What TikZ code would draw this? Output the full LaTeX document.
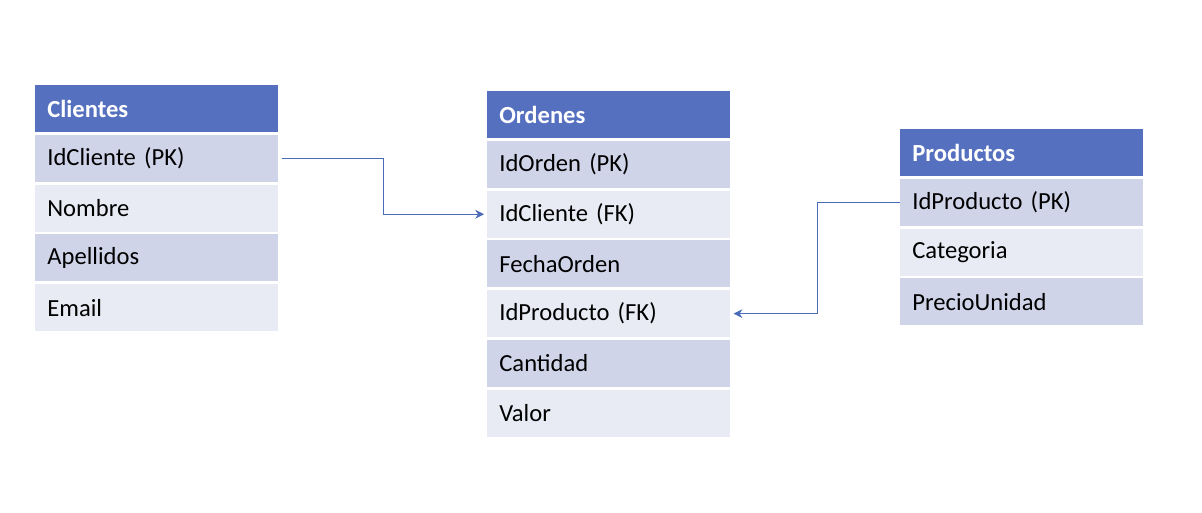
\documentclass[tikz,border=0pt]{standalone}
\usepackage{fontspec}
\setmainfont{Carlito}
\usetikzlibrary{arrows.meta}
\usetikzlibrary{positioning}
\definecolor{headblue}{HTML}{5670C0}
\definecolor{rowdark}{HTML}{CFD4E9}
\definecolor{rowlight}{HTML}{E8EAF4}
\definecolor{linkblue}{HTML}{4A6CB8}
\tikzset{
  cell/.style={minimum width=4.86cm,minimum height=0.94cm,inner xsep=0.24cm,
    text width=4.38cm,align=left,font=\fontsize{14}{16}\selectfont,anchor=north west},
  head/.style={cell,fill=headblue,text=white,font=\fontsize{14}{16}\selectfont\bfseries},
  dark/.style={cell,fill=rowdark},
  light/.style={cell,fill=rowlight},
  link/.style={linkblue,-{Stealth[length=5pt,width=5pt]}}
}
\begin{document}
\begin{tikzpicture}[x=0.02cm,y=-0.02cm]
            \useasboundingbox (0,0) rectangle (1202,512);

            % Clientes
            \node[head] (cli) at (35,85) {Clientes};
            \node[dark,below=0.04cm of cli.south west,anchor=north west] (cli1) {IdCliente (PK)};
            \node[light,below=0.04cm of cli1.south west,anchor=north west] (cli2) {Nombre};
            \node[dark,below=0.04cm of cli2.south west,anchor=north west] (cli3) {Apellidos};
            \node[light,below=0.04cm of cli3.south west,anchor=north west] (cli4) {Email};

            % Ordenes
            \node[head] (ord) at (487,91) {Ordenes};
            \node[dark,below=0.04cm of ord.south west,anchor=north west] (ord1) {IdOrden (PK)};
            \node[light,below=0.04cm of ord1.south west,anchor=north west] (ord2) {IdCliente (FK)};
            \node[dark,below=0.04cm of ord2.south west,anchor=north west] (ord3) {FechaOrden};
            \node[light,below=0.04cm of ord3.south west,anchor=north west] (ord4) {IdProducto (FK)};
            \node[dark,below=0.04cm of ord4.south west,anchor=north west] (ord5) {Cantidad};
            \node[light,below=0.04cm of ord5.south west,anchor=north west] (ord6) {Valor};

            % Productos
            \node[head] (pro) at (900,129) {Productos};
            \node[dark,below=0.04cm of pro.south west,anchor=north west] (pro1) {IdProducto (PK)};
            \node[light,below=0.04cm of pro1.south west,anchor=north west] (pro2) {Categoria};
            \node[dark,below=0.04cm of pro2.south west,anchor=north west] (pro3) {PrecioUnidad};

            % relaciones
            \draw[link] ([xshift=0.06cm]cli1.east) -- ++(102,0) |- ([xshift=-0.06cm]ord2.west);
            \draw[link] (pro1.west) -- ++(-83,0) |- ([xshift=0.06cm]ord4.east);
        \end{tikzpicture}
\end{document}
